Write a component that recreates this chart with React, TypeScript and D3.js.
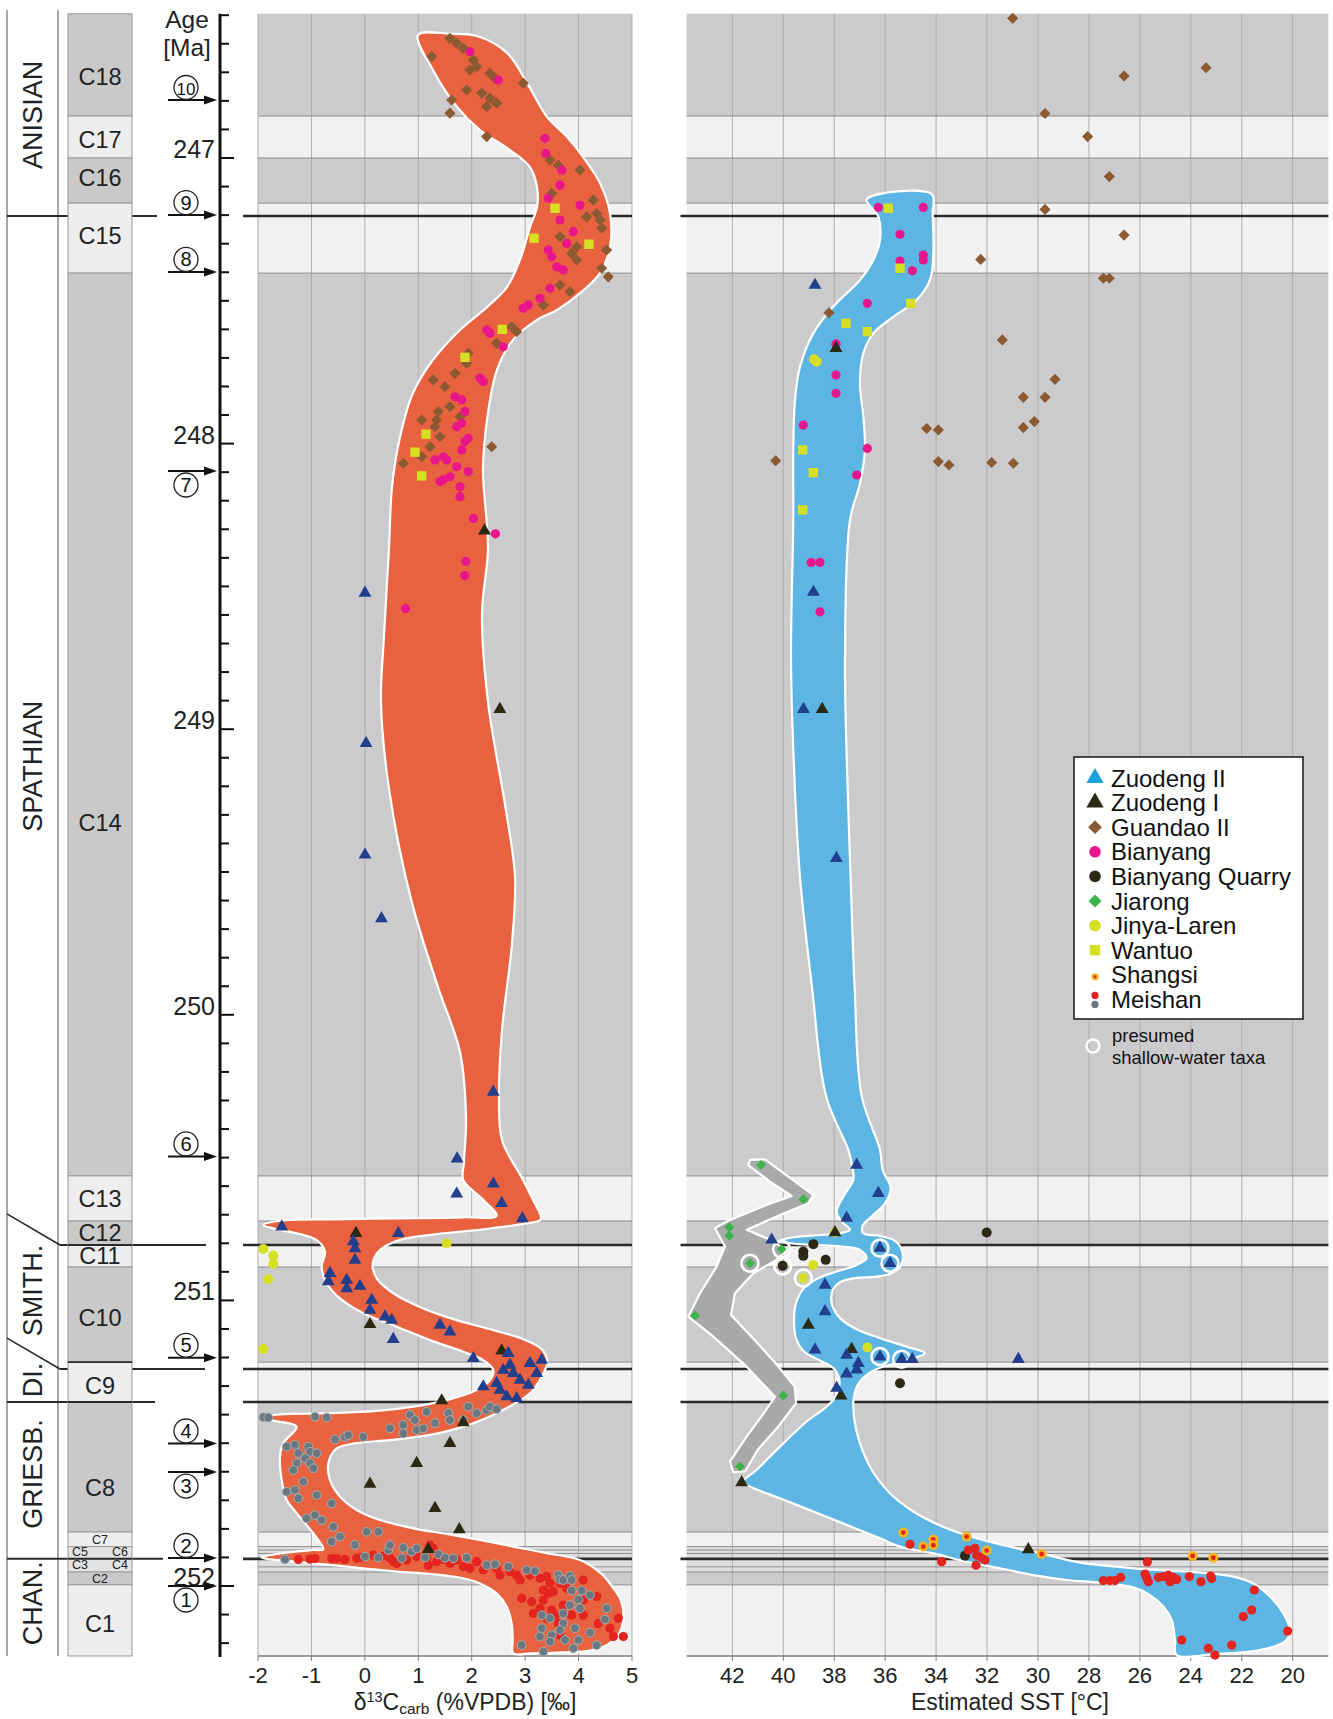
import React from 'react';
import * as d3 from 'd3';

type P = [number, number];

// ---------------- axes ----------------
const carbonTicks = [-2, -1, 0, 1, 2, 3, 4, 5];
const sstTicks = [42, 40, 38, 36, 34, 32, 30, 28, 26, 24, 22, 20];
const ageMajor = [247, 248, 249, 250, 251, 252];

// ---------------- zones (ages, Ma) ----------------
const zoneTops = [246.495, 246.853, 247.0, 247.158, 247.403, 250.564, 250.722, 250.806, 250.883, 251.216, 251.356, 251.811, 251.862, 251.905, 251.951, 251.996];
const zoneBottom = 252.245;
const zoneShade = ['d', 'l', 'd', 'l', 'd', 'l', 'd', 'l', 'd', 'l', 'd', 'l', 'm', 'm', 'd', 'l'];
const zoneLabelText = ['C18', 'C17', 'C16', 'C15', 'C14', 'C13', 'C12', 'C11', 'C10', 'C9', 'C8', 'C7', 'C5', 'C6', 'C3', 'C4', 'C2', 'C1'];
const zoneLabelAge = [246.715, 246.934, 247.069, 247.272, 249.325, 250.642, 250.764, 250.843, 251.06, 251.298, 251.655, 251.839, 251.881, 251.881, 251.926, 251.926, 251.974, 252.13];
const zoneLabelPos = ['c', 'c', 'c', 'c', 'c', 'c', 'c', 'c', 'c', 'c', 'c', 's', 'l', 'r', 'l', 'r', 's', 'c'];
const minorBandLines = [251.874, 251.886, 251.933];

// stages
const stageNames = ['ANISIAN', 'SPATHIAN', 'SMITH.', 'DI.', 'GRIESB.', 'CHAN.'];
const stageLabelAge = [246.849, 249.13, 250.965, 251.279, 251.608, 252.06];
const stageBounds = [247.203, 250.806, 251.24, 251.356, 251.905];
const stageDiagTop = [null, 250.697, 251.132, null, null];
const stageLineEnd = [157, 206, 205, 155, 163];

// numbered events
const eventNums = ['10', '9', '8', '7', '6', '5', '4', '3', '2', '1'];
const eventAge = [246.797, 247.2, 247.399, 248.096, 250.496, 251.201, 251.501, 251.601, 251.902, 252.0];
const eventBelow = [false, false, false, true, false, false, false, true, false, true];

// ---------------- envelopes ----------------
const carbonEnvelope: P[] = [
  [0.995, 246.569], [1.593, 246.565], [2.099, 246.573], [2.66, 246.632], [3.035, 246.737], [3.409, 246.856], [3.783, 246.926],
  [4.083, 246.996], [4.401, 247.088], [4.588, 247.193], [4.588, 247.312], [4.401, 247.403], [4.027, 247.473], [3.597, 247.532],
  [3.222, 247.567], [2.773, 247.637], [2.473, 247.742], [2.286, 247.917], [2.211, 248.092], [2.305, 248.366], [2.192, 248.597],
  [2.305, 248.905], [2.642, 249.286], [2.81, 249.518], [2.754, 249.749], [2.567, 250.053], [2.511, 250.284], [2.567, 250.438],
  [2.96, 250.578], [3.147, 250.648], [3.291, 250.716], [2.965, 250.732], [2.217, 250.751], [1.345, 250.768], [0.658, 250.788],
  [0.283, 250.824], [0.147, 250.87], [0.222, 250.923], [0.532, 250.975], [1.094, 251.028], [1.719, 251.069], [2.404, 251.104],
  [2.965, 251.136], [3.31, 251.171], [3.415, 251.215], [3.31, 251.267], [3.091, 251.325], [2.467, 251.395], [1.842, 251.442],
  [1.219, 251.471], [0.471, 251.489], [-0.153, 251.5], [-0.527, 251.518], [-0.684, 251.57], [-0.652, 251.629], [-0.465, 251.687],
  [-0.153, 251.734], [0.283, 251.769], [0.907, 251.798], [1.532, 251.818], [2.155, 251.839], [2.778, 251.862], [3.403, 251.885],
  [4.027, 251.909], [4.42, 251.956], [4.63, 252.002], [4.79, 252.049], [4.84, 252.107], [4.76, 252.166], [4.55, 252.205],
  [4.214, 252.226], [3.714, 252.232], [3.091, 252.236], [2.778, 252.236], [2.767, 252.189], [2.748, 252.131], [2.655, 252.073],
  [2.467, 252.026], [2.155, 251.991], [1.842, 251.973], [1.219, 251.958], [0.596, 251.95], [-0.029, 251.938], [-0.652, 251.926],
  [-1.276, 251.915], [-1.775, 251.907], [-1.931, 251.9], [-1.588, 251.886], [-0.965, 251.874], [-0.778, 251.871], [-0.965, 251.816],
  [-1.276, 251.745], [-1.463, 251.699], [-1.556, 251.629], [-1.588, 251.547], [-1.526, 251.5], [-1.276, 251.442], [-1.714, 251.421],
  [-1.931, 251.409], [-1.588, 251.399], [-0.652, 251.395], [0.283, 251.386], [0.907, 251.372], [1.532, 251.349], [2.093, 251.314],
  [2.342, 251.279], [2.404, 251.244], [2.217, 251.209], [1.842, 251.18], [1.219, 251.139], [0.596, 251.092], [-0.029, 251.045],
  [-0.465, 250.993], [-0.714, 250.94], [-0.808, 250.882], [-0.746, 250.83], [-0.901, 250.789], [-1.276, 250.765], [-1.65, 250.751],
  [-1.901, 250.736], [-1.588, 250.721], [-0.652, 250.716], [0.596, 250.713], [1.842, 250.709], [2.467, 250.704], [2.217, 250.648],
  [1.842, 250.578], [1.855, 250.515], [1.893, 250.361], [1.781, 250.13], [1.369, 249.903], [0.864, 249.595], [0.452, 249.209],
  [0.302, 248.905], [0.358, 248.674], [0.452, 248.366], [0.508, 248.152], [0.658, 247.977], [0.901, 247.823], [1.275, 247.707],
  [1.781, 247.602], [2.286, 247.522], [2.66, 247.452], [2.904, 247.357], [3.091, 247.242], [3.222, 247.172], [3.222, 247.102],
  [3.091, 247.032], [2.716, 246.972], [2.155, 246.902], [1.724, 246.821], [1.275, 246.692],
];

const sstEnvelope: P[] = [
  [36.727, 247.145], [34.175, 247.126], [34.136, 247.194], [34.11, 247.334], [34.241, 247.427], [34.764, 247.497], [35.68, 247.556],
  [36.465, 247.614], [36.858, 247.684], [36.989, 247.789], [36.858, 247.906], [36.793, 248.022], [36.989, 248.139], [37.382, 248.268],
  [37.578, 248.751], [37.499, 249.133], [37.357, 249.518], [37.199, 249.903], [36.924, 250.284], [36.204, 250.473], [36.099, 250.543],
  [35.785, 250.607], [36.007, 250.66], [36.531, 250.706], [36.884, 250.739], [36.858, 250.765], [36.204, 250.774], [35.576, 250.794],
  [35.314, 250.835], [35.392, 250.879], [35.746, 250.905], [36.335, 250.917], [37.185, 250.922], [37.8, 250.938], [38.101, 250.975],
  [38.062, 251.022], [37.774, 251.062], [37.12, 251.101], [36.204, 251.132], [35.157, 251.162], [34.437, 251.185], [35.026, 251.206],
  [35.68, 251.222], [36.465, 251.246], [36.989, 251.284], [37.225, 251.337], [37.225, 251.407], [36.989, 251.5], [36.531, 251.593],
  [35.811, 251.675], [34.895, 251.739], [33.586, 251.798], [32.278, 251.836], [30.969, 251.865], [29.66, 251.891], [28.352, 251.918],
  [27.566, 251.927], [26.257, 251.938], [24.948, 251.946], [23.64, 251.953], [22.331, 251.967], [21.546, 251.991], [20.891, 252.037],
  [20.368, 252.096], [20.106, 252.154], [20.237, 252.189], [20.761, 252.213], [21.677, 252.23], [22.985, 252.238], [24.556, 252.242],
  [24.621, 252.189], [24.752, 252.119], [25.079, 252.072], [25.603, 252.032], [26.257, 252.005], [27.566, 251.988], [28.874, 251.979],
  [30.183, 251.962], [31.492, 251.938], [32.801, 251.915], [34.109, 251.886], [35.418, 251.862], [36.204, 251.833], [37.513, 251.786],
  [38.821, 251.739], [40.13, 251.693], [41.439, 251.646], [41.57, 251.634], [41.046, 251.593], [40.13, 251.512], [39.083, 251.424],
  [38.298, 251.372], [37.905, 251.331], [37.8, 251.278], [38.036, 251.237], [38.625, 251.208], [39.188, 251.179], [39.502, 251.132],
  [39.58, 251.074], [39.502, 251.01], [39.188, 250.957], [38.625, 250.922], [37.905, 250.899], [37.12, 250.876], [36.727, 250.852],
  [36.989, 250.823], [37.774, 250.811], [38.821, 250.806], [39.737, 250.8], [40.13, 250.792], [39.606, 250.779], [38.559, 250.771],
  [37.774, 250.765], [37.382, 250.753], [37.709, 250.724], [37.905, 250.689], [37.643, 250.636], [37.251, 250.578], [37.316, 250.52],
  [37.447, 250.473], [38.323, 250.284], [38.873, 249.903], [39.344, 249.518], [39.58, 249.133], [39.698, 248.751], [39.608, 248.268],
  [39.608, 248.022], [39.541, 247.847], [39.345, 247.731], [38.822, 247.614], [38.036, 247.52], [36.989, 247.427], [36.465, 247.357],
  [36.204, 247.287], [36.269, 247.205],
];

const jiarongEnvelope: P[] = [
  [41.308, 250.508], [40.719, 250.506], [38.821, 250.631], [39.017, 250.66], [40.13, 250.701], [41.439, 250.753], [40.523, 250.788],
  [39.868, 250.823], [40.261, 250.858], [41.177, 250.905], [41.9, 250.975], [42.05, 251.051], [41.2, 251.132], [40.3, 251.22],
  [39.55, 251.302], [39.5, 251.36], [40.2, 251.442], [41.0, 251.523], [41.5, 251.598], [41.962, 251.602], [42.093, 251.564],
  [41.439, 251.477], [40.719, 251.389], [40.326, 251.337], [41.439, 251.232], [42.747, 251.127], [43.729, 251.057], [43.271, 250.975],
  [42.616, 250.881], [42.289, 250.811], [42.682, 250.747], [42.093, 250.718], [40.654, 250.666], [39.672, 250.634], [40.523, 250.584],
  [41.373, 250.526],
];

// ---------------- data points: carbon panel [d13C, age] ----------------
const guandaoC: P[] = [
  [1.593, 246.581], [1.719, 246.598], [1.842, 246.616], [1.251, 246.645], [2.03, 246.657], [2.093, 246.68], [1.968, 246.692],
  [2.342, 246.703], [2.436, 246.721], [2.965, 246.738], [1.906, 246.762], [2.187, 246.773], [2.342, 246.791], [2.467, 246.808],
  [2.28, 246.82], [1.625, 246.797], [1.593, 246.843], [2.28, 246.925], [3.465, 247.007], [3.62, 247.025], [4.027, 247.042],
  [3.497, 247.124], [4.275, 247.147], [4.339, 247.194], [4.152, 247.206], [4.401, 247.217], [4.433, 247.246], [3.652, 247.276],
  [3.965, 247.311], [3.871, 247.334], [4.526, 247.322], [3.965, 247.357], [4.433, 247.386], [4.556, 247.416], [3.652, 247.445],
  [3.839, 247.468], [3.34, 247.515], [2.842, 247.608], [2.748, 247.591], [2.467, 247.649], [1.906, 247.719], [1.936, 247.684],
  [1.687, 247.754], [1.281, 247.777], [1.5, 247.801], [1.593, 247.871], [1.374, 247.888], [1.064, 247.917], [1.345, 247.917],
  [1.313, 247.941], [1.406, 247.976], [1.219, 248.011], [1.064, 248.046], [0.719, 248.069], [2.374, 248.011], [1.781, 247.906],
];
const bianyangC: P[] = [
  [1.968, 246.628], [2.497, 246.727], [3.371, 246.931], [3.385, 246.984], [3.684, 247.042], [3.652, 247.095], [3.433, 247.141],
  [4.027, 247.165], [3.652, 247.217], [3.901, 247.258], [3.778, 247.299], [3.433, 247.322], [3.497, 247.346], [3.59, 247.381],
  [3.714, 247.392], [3.465, 247.456], [3.278, 247.491], [3.059, 247.515], [2.965, 247.526], [2.28, 247.602], [2.342, 247.614],
  [2.591, 247.661], [2.155, 247.771], [2.217, 247.783], [1.687, 247.836], [1.812, 247.847], [1.874, 247.888], [1.812, 247.929],
  [1.719, 247.941], [1.936, 247.981], [1.874, 247.993], [1.812, 248.022], [1.468, 248.046], [1.313, 248.057], [1.532, 248.057],
  [1.719, 248.081], [1.468, 248.127], [1.406, 248.133], [1.593, 248.116], [1.936, 248.098], [1.781, 248.151], [1.781, 248.186],
  [2.03, 248.262], [2.445, 248.316], [1.891, 248.412], [1.87, 248.462], [0.762, 248.577],
];
const wantuoC: P[] = [
  [3.559, 247.176], [3.166, 247.281], [4.195, 247.302], [2.572, 247.6], [1.874, 247.698], [1.144, 247.967], [0.938, 248.03], [1.064, 248.113],
];
const zuodeng2C: P[] = [
  [0.003, 248.523], [0.023, 249.049], [0.003, 249.44], [0.311, 249.663], [2.404, 250.27], [1.726, 250.504],
  [2.404, 250.592], [1.719, 250.627], [2.561, 250.66], [2.947, 250.713], [-1.556, 250.742], [0.626, 250.765], [-0.216, 250.794],
  [-0.185, 250.818], [-0.185, 250.859], [-0.652, 250.905], [-0.684, 250.934], [-0.34, 250.929], [-0.34, 250.958], [-0.091, 250.95],
  [0.128, 250.999], [0.096, 251.034], [0.377, 251.057], [0.502, 251.069], [1.406, 251.086], [1.593, 251.11], [0.532, 251.136],
  [2.03, 251.203], [2.685, 251.185], [2.716, 251.226], [3.091, 251.22], [3.31, 251.209], [2.778, 251.255], [2.904, 251.279],
  [3.216, 251.255], [2.217, 251.302], [2.467, 251.29], [2.529, 251.314], [2.655, 251.337], [2.842, 251.343], [3.059, 251.296],
  [2.591, 251.244],
];
const zuodeng1C: P[] = [
  [2.239, 248.305], [2.527, 248.93], [-0.166, 250.765], [0.096, 251.084], [2.561, 251.176], [1.438, 251.351], [1.842, 251.428],
  [1.593, 251.5], [0.97, 251.57], [0.096, 251.643], [1.313, 251.728], [1.768, 251.802], [1.187, 251.871],
];
const jinyaC: P[] = [
  [-1.901, 250.82], [-1.714, 250.843], [-1.714, 250.872], [-1.807, 250.926], [-1.901, 251.17], [1.532, 250.8],
];
const meishanGrayC: P[] = [
  [-1.901, 251.409], [-1.807, 251.41], [-0.933, 251.407], [-0.714, 251.41], [0.845, 251.401], [0.938, 251.419], [0.719, 251.436],
  [0.97, 251.454], [1.094, 251.448], [1.157, 251.39], [1.313, 251.43], [1.562, 251.395], [1.593, 251.419], [1.842, 251.419],
  [1.936, 251.372], [2.093, 251.395], [2.28, 251.384], [2.342, 251.372], [2.467, 251.381], [0.47, 251.448], [0.719, 251.466],
  [-0.559, 251.487], [-0.372, 251.478], [-0.31, 251.472], [-0.029, 251.478], [-1.463, 251.512], [-1.308, 251.506], [-1.059, 251.512],
  [-1.027, 251.53], [-1.246, 251.535], [-0.901, 251.535], [-1.12, 251.553], [-1.276, 251.57], [-1.027, 251.57], [-1.339, 251.594],
  [-0.965, 251.588], [-1.152, 251.635], [-1.463, 251.67], [-1.308, 251.664], [-1.246, 251.693], [-0.901, 251.682], [-0.621, 251.711],
  [-1.089, 251.763], [-0.933, 251.752], [-0.808, 251.769], [-0.591, 251.793], [-0.465, 251.827], [0.034, 251.81], [0.252, 251.81],
  [-0.621, 251.845], [-0.185, 251.856],
  [-1.495, 251.907], [0.003, 251.897], [0.252, 251.9], [0.439, 251.874], [0.471, 251.857], [0.72, 251.866], [0.876, 251.88],
  [0.97, 251.868], [0.689, 251.903], [1.126, 251.9], [1.375, 251.889], [1.5, 251.901], [1.656, 251.903], [1.905, 251.901],
  [2.28, 251.927], [2.436, 251.924], [2.685, 251.932], [3.028, 251.944], [3.184, 251.948], [3.621, 251.962], [3.652, 251.977],
  [3.715, 251.979], [3.839, 251.965], [3.871, 251.979], [3.871, 252.016], [4.058, 252.016], [4.214, 252.032], [3.996, 252.047],
  [3.839, 252.067], [4.027, 252.078], [4.526, 252.078], [3.715, 252.096], [3.309, 252.102], [3.465, 252.113], [3.715, 252.131],
  [3.933, 252.148], [3.652, 252.154], [3.309, 252.148], [3.496, 252.172], [3.278, 252.177], [3.746, 252.189], [3.996, 252.189],
  [4.214, 252.163], [4.495, 252.117], [4.339, 252.207], [3.465, 252.195], [3.902, 252.218], [3.34, 252.23], [2.935, 252.207],
];
const meishanRedC: P[] = [
  [-1.245, 251.907], [-1.027, 251.906], [-0.933, 251.904], [-0.621, 251.904], [-0.528, 251.904], [-0.372, 251.907], [-0.153, 251.903],
  [-0.06, 251.9], [0.159, 251.892], [0.346, 251.895], [0.471, 251.903], [0.533, 251.915], [0.596, 251.921], [0.783, 251.909],
  [0.97, 251.897], [1.157, 251.903], [1.219, 251.857], [1.282, 251.868], [1.188, 251.927], [1.344, 251.915], [1.469, 251.907],
  [1.594, 251.921], [1.718, 251.909], [1.843, 251.932], [1.968, 251.938], [2.093, 251.915], [2.217, 251.944], [2.467, 251.938],
  [2.529, 251.962], [2.717, 251.95], [2.841, 251.962], [2.904, 251.979], [3.091, 251.962], [3.278, 251.973], [3.403, 251.967],
  [3.465, 251.991], [3.652, 251.991], [3.777, 252.008], [4.089, 251.979], [3.34, 252.014], [3.434, 252.026], [3.528, 252.02],
  [2.935, 252.043], [3.122, 252.055], [3.34, 252.049], [3.496, 252.084], [3.559, 252.102], [3.403, 252.113], [3.715, 252.067],
  [3.871, 252.102], [4.089, 252.102], [4.339, 252.037], [4.37, 252.131], [4.588, 252.148], [4.65, 252.177], [4.744, 252.113],
  [4.838, 252.177], [3.652, 252.172], [3.621, 252.131], [4.089, 252.049], [3.278, 252.078], [3.153, 252.096],
];

// ---------------- data points: SST panel [°C, age] ----------------
const guandaoT: P[] = [
  [30.995, 246.511], [29.725, 246.844], [29.725, 247.18], [32.251, 247.355], [38.206, 247.542], [31.4, 247.637], [29.333, 247.775],
  [30.576, 247.838], [29.725, 247.838], [30.144, 247.923], [30.576, 247.944], [34.372, 247.947], [33.913, 247.952], [33.913, 248.063],
  [33.495, 248.075], [31.819, 248.066], [30.969, 248.069], [40.3, 248.06], [26.62, 246.713], [23.404, 246.684], [28.05, 246.925],
  [27.2, 247.065], [26.62, 247.27], [27.435, 247.421], [27.2, 247.421],
];
const bianyangT: P[] = [
  [36.269, 247.173], [34.502, 247.173], [35.418, 247.267], [35.418, 247.361], [34.502, 247.34], [34.502, 247.357], [34.934, 247.395],
  [36.701, 247.509], [37.931, 247.651], [37.931, 247.76], [37.931, 247.824], [39.214, 247.935], [36.701, 248.017], [37.12, 248.11],
  [38.905, 248.416], [38.559, 248.416], [38.559, 248.589],
];
const wantuoT: P[] = [
  [35.877, 247.176], [35.418, 247.386], [34.999, 247.509], [37.539, 247.579], [36.701, 247.608], [39.24, 248.022], [38.821, 248.102], [39.24, 248.232],
];
const zuodeng2T: P[] = [
  [38.756, 247.445], [38.818, 248.52], [39.207, 248.93], [37.915, 249.452], [37.12, 250.526], [36.269, 250.625], [37.513, 250.712],
  [40.457, 250.788], [36.204, 250.817], [35.811, 250.87], [38.363, 250.946], [38.363, 251.039], [38.756, 251.173], [37.513, 251.191],
  [37.054, 251.22], [37.12, 251.243], [37.513, 251.257], [37.905, 251.307], [36.204, 251.197], [35.353, 251.206], [34.934, 251.206],
  [30.773, 251.206],
];
const zuodeng1T: P[] = [
  [37.931, 247.666], [38.473, 248.93], [37.971, 250.762], [39.017, 251.086], [37.316, 251.171], [37.735, 251.334], [41.635, 251.638], [30.38, 251.872],
];
const quarryT: P[] = [
  [38.821, 250.803], [39.214, 250.829], [39.214, 250.844], [38.337, 250.858], [40.025, 250.879], [32.016, 250.762], [35.418, 251.29], [32.866, 251.894],
];
const jinyaT: P[] = [
  [38.795, 247.705], [38.69, 247.713], [37.971, 250.762], [38.821, 250.876], [39.214, 250.922], [36.701, 251.165],
];
const jiarongT: P[] = [
  [40.876, 250.526], [39.214, 250.646], [42.119, 250.744], [42.119, 250.774], [40.065, 250.821], [41.308, 250.87], [43.467, 251.053],
  [39.999, 251.333], [41.7, 251.582],
];
const meishanT: P[] = [
  [35.025, 251.854], [33.782, 251.915], [32.735, 251.874], [32.473, 251.868], [32.408, 251.892], [32.212, 251.9], [32.081, 251.909],
  [32.434, 251.927], [25.707, 251.916], [27.435, 251.981], [27.173, 251.981], [26.977, 251.981], [26.754, 251.97], [25.799, 251.958],
  [25.734, 251.97], [25.668, 251.985], [25.276, 251.97], [25.079, 251.967], [24.883, 251.962], [24.818, 251.985], [24.687, 251.97],
  [24.556, 251.977], [24.059, 251.967], [23.601, 251.985], [23.221, 251.965], [23.182, 251.974], [21.507, 252.014], [21.611, 252.084],
  [21.939, 252.107], [20.198, 252.158], [22.397, 252.207], [23.313, 252.218], [23.051, 252.242], [24.359, 252.189],
];
const shangsiT: P[] = [
  [35.287, 251.813], [34.502, 251.862], [34.109, 251.837], [34.109, 251.857], [32.801, 251.827], [32.016, 251.876], [29.856, 251.888],
  [23.927, 251.895], [23.116, 251.901],
];
const shallowT: P[] = [
  [40.065, 250.821], [41.308, 250.87], [36.204, 250.817], [35.811, 250.87], [36.204, 251.197], [35.353, 251.206], [40.025, 250.879], [39.214, 250.922],
];

// legend
const legendNames = ['Zuodeng II', 'Zuodeng I', 'Guandao II', 'Bianyang', 'Bianyang Quarry', 'Jiarong', 'Jinya-Laren', 'Wantuo', 'Shangsi', 'Meishan'];
const legendKinds = ['tri2L', 'tri1L', 'diaBrownL', 'magL', 'quarryL', 'diaGreenL', 'yelL', 'sqYelL', 'shangsiL', 'meishanL'];

const FONT = 'Liberation Sans, Arial, Helvetica, sans-serif';
const C = {
  dark: '#cbcbcd', light: '#f1f1f2', mid: '#dedee0',
  zoneDark: '#c9c9ca', zoneLight: '#eeeeef',
  red: '#e8623f', blue: '#5cb5e3', grayEnv: '#a9a9ab',
  navy: '#223f8e', olive: '#2a2a12', brown: '#8b5a32', magenta: '#e8158b',
  quarry: '#2b2a15', green: '#3db44a', yellow: '#d6df22', orange: '#f3b61f',
  mRed: '#e3241f', mGray: '#6c787f',
};

function Mark({ kind, x, y }: { kind: string; x: number; y: number }) {
  const tri = (s: number) => d3.symbol().type(d3.symbolTriangle).size(s)() as string;
  const sq = (s: number) => d3.symbol().type(d3.symbolSquare).size(s)() as string;
  const t = `translate(${x},${y})`;
  switch (kind) {
    case 'tri2': return <path d={tri(72)} transform={t} fill={C.navy} />;
    case 'tri1': return <path d={tri(72)} transform={t} fill={C.olive} />;
    case 'diaBrown': return <path d={sq(62)} transform={`${t} rotate(45)`} fill={C.brown} />;
    case 'diaGreen': return <path d={sq(50)} transform={`${t} rotate(45)`} fill={C.green} />;
    case 'mag': return <circle cx={x} cy={y} r={4.6} fill={C.magenta} />;
    case 'quarry': return <circle cx={x} cy={y} r={5} fill={C.quarry} />;
    case 'yel': return <circle cx={x} cy={y} r={5} fill={C.yellow} />;
    case 'sqYel': return <path d={sq(88)} transform={t} fill={C.yellow} />;
    case 'shangsi': return <g><circle cx={x} cy={y} r={5} fill={C.orange} /><circle cx={x} cy={y} r={2.4} fill={C.mRed} /></g>;
    case 'mRed': return <circle cx={x} cy={y} r={4.6} fill={C.mRed} />;
    case 'mGray': return <circle cx={x} cy={y} r={4.4} fill={C.mGray} stroke="#a4aeb3" strokeWidth={1} />;
    case 'tri2L': return <path d={tri(130)} transform={t} fill="#1ca3de" />;
    case 'tri1L': return <path d={tri(130)} transform={t} fill={C.olive} />;
    case 'diaBrownL': return <path d={sq(95)} transform={`${t} rotate(45)`} fill={C.brown} />;
    case 'diaGreenL': return <path d={sq(85)} transform={`${t} rotate(45)`} fill={C.green} />;
    case 'magL': return <circle cx={x} cy={y} r={5.8} fill={C.magenta} />;
    case 'quarryL': return <circle cx={x} cy={y} r={5.8} fill={C.quarry} />;
    case 'yelL': return <circle cx={x} cy={y} r={5.8} fill={C.yellow} />;
    case 'sqYelL': return <path d={sq(110)} transform={t} fill={C.yellow} />;
    case 'shangsiL': return <g><circle cx={x} cy={y + 2} r={3.6} fill={C.orange} /><circle cx={x} cy={y + 2} r={1.6} fill={C.mRed} /></g>;
    case 'meishanL': return <g><circle cx={x} cy={y - 4} r={3.6} fill={C.mRed} /><circle cx={x} cy={y + 5} r={3.6} fill={C.mGray} /></g>;
    default: return null;
  }
}

export default function App() {
  const W = 1333, H = 1719;
  const y = d3.scaleLinear().domain([247, 252]).range([158, 1586]);
  const xC = d3.scaleLinear().domain([-2, 5]).range([258, 632]);
  const xT = d3.scaleLinear().domain([40, 20]).range([783.3, 1292.7]);
  const topAge = zoneTops[0];
  const yTop = y(topAge), yBot = y(zoneBottom);
  const L0 = xC(-2), L1 = xC(5);
  const R0 = xT(43.8), R1 = xT(18.6);
  const axisX = 220;
  const colX0 = 68, colX1 = 132;

  const zones = zoneTops.map((t, i) => ({ t, b: i < zoneTops.length - 1 ? zoneTops[i + 1] : zoneBottom, s: zoneShade[i] }));
  const bandFill = (s: string) => (s === 'd' ? C.dark : s === 'l' ? C.light : C.mid);
  const zoneFill = (s: string) => (s === 'd' ? C.zoneDark : s === 'l' ? C.zoneLight : '#e4e4e5');

  const lineC = d3.line<P>().x(d => xC(d[0])).y(d => y(d[1])).curve(d3.curveCatmullRomClosed.alpha(0.5));
  const lineT = d3.line<P>().x(d => xT(d[0])).y(d => y(d[1])).curve(d3.curveCatmullRomClosed.alpha(0.5));
  const lineJ = d3.line<P>().x(d => xT(d[0])).y(d => y(d[1])).curve(d3.curveLinearClosed);

  const ageTicks = d3.range(0, 58).map(i => +(246.5 + i * 0.1).toFixed(1)).filter(a => a <= 252.25);

  const ptsC = (arr: P[], kind: string) => arr.map((d, i) => <Mark key={kind + i} kind={kind} x={xC(d[0])} y={y(d[1])} />);
  const ptsT = (arr: P[], kind: string) => arr.map((d, i) => <Mark key={kind + i} kind={kind} x={xT(d[0])} y={y(d[1])} />);

  const panelBands = (x0: number, x1: number, key: string) => (
    <g key={key}>
      {zones.map((z, i) => (
        <rect key={i} x={x0} y={y(z.t)} width={x1 - x0} height={y(z.b) - y(z.t)} fill={bandFill(z.s)} />
      ))}
    </g>
  );
  const panelLines = (x0: number, x1: number, ext: number, key: string) => (
    <g key={key}>
      {zones.slice(1).map((z, i) => (
        <line key={'z' + i} x1={x0} x2={x1} y1={y(z.t)} y2={y(z.t)} stroke="#8e8e90" strokeWidth={1} />
      ))}
      {minorBandLines.map((a, i) => (
        <line key={'m' + i} x1={x0} x2={x1} y1={y(a)} y2={y(a)} stroke="#8e8e90" strokeWidth={1} />
      ))}
      {stageBounds.map((a, i) => (
        <line key={'s' + i} x1={x0 - ext} x2={x1} y1={y(a)} y2={y(a)} stroke="#2a2a2a" strokeWidth={2.6} />
      ))}
    </g>
  );

  return (
    <svg width={W} height={H} viewBox={`0 0 ${W} ${H}`} style={{ position: 'absolute', left: 0, top: 0, background: '#fff' }} fontFamily={FONT}>
      <rect x={0} y={0} width={W} height={H} fill="#fff" />

      {/* ---------- stage column ---------- */}
      <line x1={7} x2={7} y1={10} y2={yBot} stroke="#8a8a8a" strokeWidth={1.5} />
      <line x1={58} x2={58} y1={10} y2={yBot} stroke="#8a8a8a" strokeWidth={1.5} />
      {stageBounds.map((a, i) => {
        const d = stageDiagTop[i];
        return (
          <g key={'sb' + i}>
            {d !== null ? (
              <>
                <line x1={7} y1={y(d as number)} x2={60} y2={y(a)} stroke="#2a2a2a" strokeWidth={1.6} />
                <line x1={60} y1={y(a)} x2={stageLineEnd[i]} y2={y(a)} stroke="#2a2a2a" strokeWidth={2} />
              </>
            ) : (
              <line x1={7} y1={y(a)} x2={stageLineEnd[i]} y2={y(a)} stroke="#2a2a2a" strokeWidth={2} />
            )}
          </g>
        );
      })}
      {stageNames.map((s, i) => (
        <text key={s} transform={`translate(42,${y(stageLabelAge[i])}) rotate(-90)`} textAnchor="middle" fontSize={27} fill="#222">{s}</text>
      ))}

      {/* ---------- zone column ---------- */}
      {zones.map((z, i) => (
        <rect key={'zc' + i} x={colX0} y={y(z.t)} width={colX1 - colX0} height={y(z.b) - y(z.t)} fill={zoneFill(z.s)} stroke="#9a9a9a" strokeWidth={1} />
      ))}
      {[stageBounds[1], stageBounds[3], stageBounds[4]].map((a, i) => (
        <line key={'zl' + i} x1={colX0} x2={colX1} y1={y(a)} y2={y(a)} stroke="#2a2a2a" strokeWidth={2} />
      ))}
      <line x1={colX0} x2={colX1} y1={y(zoneTops[9])} y2={y(zoneTops[9])} stroke="#2a2a2a" strokeWidth={1.6} />
      {zoneLabelText.map((t, i) => {
        const p = zoneLabelPos[i];
        const small = p !== 'c';
        const x = p === 'l' ? colX0 + 12 : p === 'r' ? colX1 - 12 : (colX0 + colX1) / 2;
        return (
          <text key={'zt' + i} x={x} y={y(zoneLabelAge[i])} dy={small ? 4 : 8.5} textAnchor="middle" fontSize={small ? 12.5 : 23.5} fill="#222">{t}</text>
        );
      })}

      {/* ---------- age axis ---------- */}
      <line x1={axisX} x2={axisX} y1={yTop} y2={yBot + 1} stroke="#111" strokeWidth={3} />
      {ageTicks.map((a, i) => {
        const major = Math.abs(a - Math.round(a)) < 1e-6;
        return <line key={'at' + i} x1={axisX} x2={axisX + (major ? 14 : 9)} y1={y(a)} y2={y(a)} stroke="#111" strokeWidth={2} />;
      })}
      {ageMajor.map(a => (
        <text key={'al' + a} x={215} y={y(a)} textAnchor="end" fontSize={25} fill="#222">{a}</text>
      ))}
      <text x={187} y={28} textAnchor="middle" fontSize={24.5} fill="#222">Age</text>
      <text x={187} y={56} textAnchor="middle" fontSize={24.5} fill="#222">[Ma]</text>

      {/* events */}
      {eventNums.map((n, i) => {
        const ay = y(eventAge[i]);
        const cy = eventBelow[i] ? ay + 14 : ay - 12.5;
        return (
          <g key={'ev' + n}>
            <line x1={168} x2={206} y1={ay} y2={ay} stroke="#111" strokeWidth={2} />
            <path d={`M${217},${ay} L${204},${ay - 4.5} L${204},${ay + 4.5} Z`} fill="#111" />
            <circle cx={186} cy={cy} r={12} fill="#fff" fillOpacity={0.6} stroke="#222" strokeWidth={1.3} />
            <text x={186} y={cy} dy={7} textAnchor="middle" fontSize={n.length > 1 ? 17 : 20} fill="#111">{n}</text>
          </g>
        );
      })}

      {/* ---------- left panel ---------- */}
      {panelBands(L0, L1, 'lb')}
      {carbonTicks.map(v => (
        <line key={'gc' + v} x1={xC(v)} x2={xC(v)} y1={yTop} y2={yBot} stroke="#b4abab" strokeWidth={1} />
      ))}
      {panelLines(L0, L1, 15, 'll')}
      <line x1={L0} x2={L1} y1={yBot} y2={yBot} stroke="#7d7d7d" strokeWidth={1.5} />
      {carbonTicks.map(v => (
        <g key={'tc' + v}>
          <line x1={xC(v)} x2={xC(v)} y1={yBot} y2={yBot + 5} stroke="#7d7d7d" strokeWidth={1} />
          <text x={xC(v)} y={1683} textAnchor="middle" fontSize={22} fill="#222">{v}</text>
        </g>
      ))}
      <text x={465} y={1710} textAnchor="middle" fontSize={23} fill="#222">
        <tspan>δ</tspan>
        <tspan dy={-8} fontSize={14.5}>13</tspan>
        <tspan dy={8}>C</tspan>
        <tspan dy={4} fontSize={15.5}>carb</tspan>
        <tspan dy={-4}> (%VPDB) [‰]</tspan>
      </text>

      <path d={lineC(carbonEnvelope) as string} fill={C.red} stroke="#fff" strokeWidth={2.2} strokeLinejoin="round" />
      {ptsC(guandaoC, 'diaBrown')}
      {ptsC(bianyangC, 'mag')}
      {ptsC(wantuoC, 'sqYel')}
      {ptsC(jinyaC, 'yel')}
      {ptsC(meishanRedC, 'mRed')}
      {ptsC(meishanGrayC, 'mGray')}
      {ptsC(zuodeng1C, 'tri1')}
      {ptsC(zuodeng2C, 'tri2')}

      {/* ---------- right panel ---------- */}
      {panelBands(R0, R1, 'rb')}
      {sstTicks.map(v => (
        <line key={'gt' + v} x1={xT(v)} x2={xT(v)} y1={yTop} y2={yBot} stroke="#b4abab" strokeWidth={1} />
      ))}
      {panelLines(R0, R1, 6, 'rl')}
      <line x1={R0} x2={R1} y1={yBot} y2={yBot} stroke="#7d7d7d" strokeWidth={1.5} />
      {sstTicks.map(v => (
        <g key={'tt' + v}>
          <line x1={xT(v)} x2={xT(v)} y1={yBot} y2={yBot + 5} stroke="#7d7d7d" strokeWidth={1} />
          <text x={xT(v)} y={1683} textAnchor="middle" fontSize={22} fill="#222">{v}</text>
        </g>
      ))}
      <text x={1010} y={1710} textAnchor="middle" fontSize={23} fill="#222">Estimated SST [°C]</text>

      <path d={lineJ(jiarongEnvelope) as string} fill={C.grayEnv} stroke="#fff" strokeWidth={2.2} strokeLinejoin="round" />
      <path d={lineT(sstEnvelope) as string} fill={C.blue} stroke="#fff" strokeWidth={2.2} strokeLinejoin="round" />
      {shallowT.map((d, i) => (
        <circle key={'sh' + i} cx={xT(d[0])} cy={y(d[1])} r={8.5} fill="none" stroke="#fff" strokeWidth={2.6} />
      ))}
      {ptsT(guandaoT, 'diaBrown')}
      {ptsT(bianyangT, 'mag')}
      {ptsT(wantuoT, 'sqYel')}
      {ptsT(jinyaT, 'yel')}
      {ptsT(quarryT, 'quarry')}
      {ptsT(jiarongT, 'diaGreen')}
      {ptsT(meishanT, 'mRed')}
      {ptsT(shangsiT, 'shangsi')}
      {ptsT(zuodeng1T, 'tri1')}
      {ptsT(zuodeng2T, 'tri2')}

      {/* ---------- legend ---------- */}
      <rect x={1074} y={757} width={229} height={262} fill="#fff" stroke="#222" strokeWidth={1.6} />
      {legendNames.map((n, i) => {
        const cy = 778 + i * 24.6;
        return (
          <g key={'lg' + i}>
            <Mark kind={legendKinds[i]} x={1095} y={cy} />
            <text x={1111} y={cy + 8.5} fontSize={24} fill="#111">{n}</text>
          </g>
        );
      })}
      <circle cx={1093} cy={1046} r={6.5} fill="none" stroke="#fff" strokeWidth={2.4} />
      <text x={1112} y={1042} fontSize={18.5} fill="#111">presumed</text>
      <text x={1112} y={1064} fontSize={18.5} fill="#111">shallow-water taxa</text>
    </svg>
  );
}
